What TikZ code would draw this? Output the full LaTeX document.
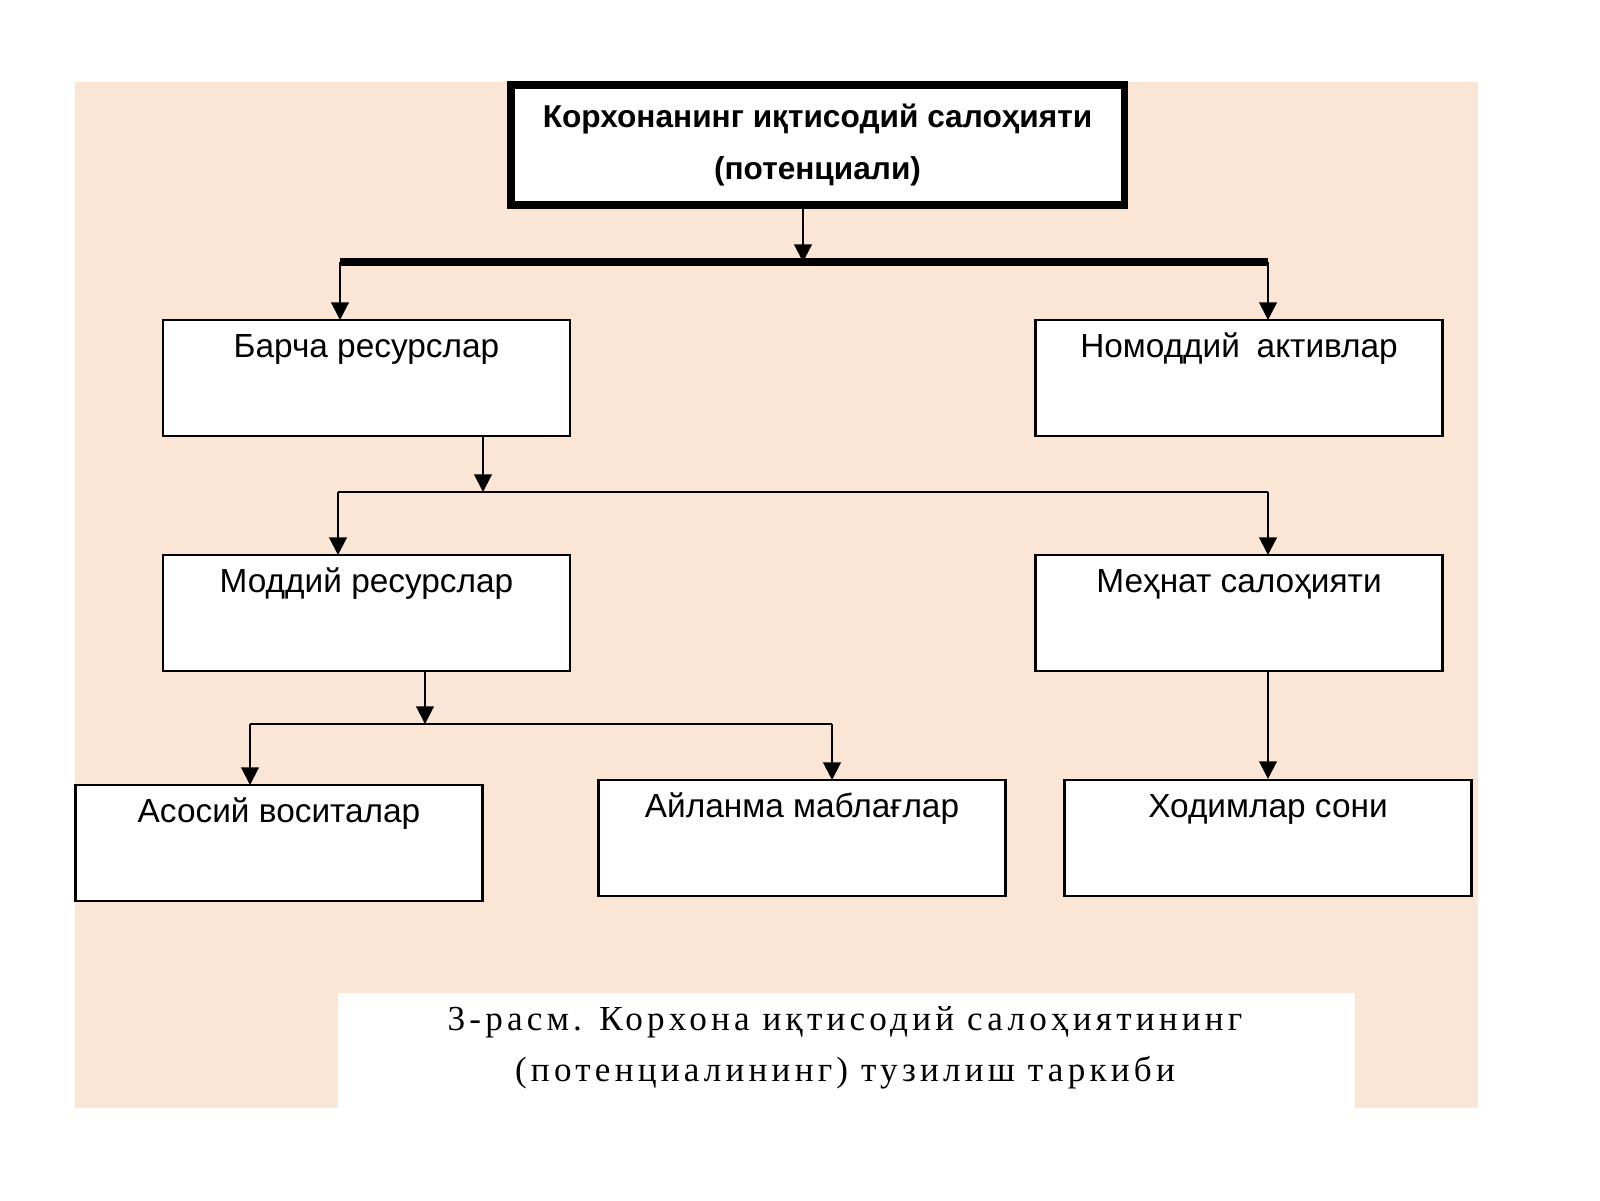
\documentclass[tikz,border=0pt]{standalone}
\usepackage{fontspec}
\setmainfont{Liberation Sans}
\newfontfamily\capfont[LetterSpace=12]{Liberation Serif}
\usetikzlibrary{positioning,arrows.meta}
\definecolor{peach}{HTML}{FBE6D6}
\newcommand{\boxtxt}[1]{\parbox[t][0.95cm][t]{4cm}{\centering\strut #1}}
\tikzset{
  box/.style={draw, fill=white, line width=0.6pt, minimum width=4.07cm, minimum height=1.16cm, inner sep=0pt, font=\fontsize{9.5}{11}\selectfont},
  arr/.style={-{Triangle[length=5pt,width=5pt]}, line width=0.6pt},
  bus/.style={line width=0.6pt}
}
\begin{document}
\begin{tikzpicture}
  \useasboundingbox (0,0) rectangle (16,12);
  \fill[peach] (0.75,0.92) rectangle (14.78,11.18);
  \fill[white] (3.38,0.92) rectangle (13.55,2.07);

  \node[draw, fill=white, line width=2pt, minimum width=6.13cm, minimum height=1.2cm, align=center, font=\bfseries\fontsize{9}{15}\selectfont] (top) at (8.175,10.55) {Корхонанинг иқтисодий салоҳияти\\(потенциали)};

  \node[box] (barcha) at (3.665,8.22) {\boxtxt{Барча ресурслар}};
  \node[box] (nomod) at (12.39,8.22) {\boxtxt{Номоддий\enspace активлар}};
  \node[box] (moddiy) at (3.665,5.87) {\boxtxt{Моддий ресурслар}};
  \node[box] (mehnat) at (12.39,5.87) {\boxtxt{Меҳнат салоҳияти}};
  \node[box] (asosiy) at (2.79,3.57) {\boxtxt{Асосий воситалар}};
  \node[box] (aylanma) at (8.02,3.62) {\boxtxt{Айланма маблағлар}};
  \node[box] (xodim) at (12.68,3.62) {\boxtxt{Ходимлар сони}};

  \coordinate (b1) at (8.03,9.38);
  \coordinate (b2) at (4.83,7.08);
  \coordinate (b3) at (4.25,4.76);

  % first level
  \draw[arr] (top.south -| b1) -- (b1);
  \draw[line width=2pt] (3.40,9.38) -- (12.68,9.38);
  \draw[arr] (3.40,9.38) -- (3.40,8.80);
  \draw[arr] (12.68,9.38) -- (12.68,8.80);

  % second level
  \draw[arr] (barcha.south -| b2) -- (b2);
  \draw[bus] (3.38,7.08) -- (12.68,7.08);
  \draw[arr] (3.38,7.08) -- (3.38,6.45);
  \draw[arr] (12.68,7.08) -- (12.68,6.45);

  % third level
  \draw[arr] (moddiy.south -| b3) -- (b3);
  \draw[bus] (2.50,4.76) -- (8.32,4.76);
  \draw[arr] (2.50,4.76) -- (2.50,4.15);
  \draw[arr] (8.32,4.76) -- (8.32,4.20);
  \draw[arr] (mehnat.south -| xodim.north) -- (xodim.north);

  \node[align=center, font=\capfont\fontsize{10}{14.5}\selectfont] (cap) at (8.45,1.52) {3-расм. Корхона иқтисодий салоҳиятининг\\(потенциалининг) тузилиш таркиби};
\end{tikzpicture}
\end{document}
